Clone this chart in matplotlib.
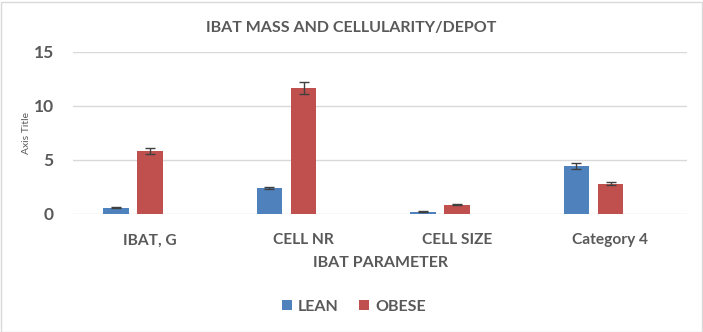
import numpy as np
import matplotlib
matplotlib.use("Agg")
from matplotlib import pyplot as plt
from matplotlib.patches import Rectangle

categories = ["IBAT, G", "CELL NR", "CELL SIZE", "Category 4"]
lean = [0.56, 2.41, 0.2, 4.46]
lean_err = [0.05, 0.08, 0.04, 0.25]
obese = [5.85, 11.7, 0.86, 2.79]
obese_err = [0.3, 0.56, 0.05, 0.14]
y_ticks = [0, 5, 10, 15]

text_color = "#595959"
font = ["Lato", "DejaVu Sans"]
plt.rcParams["font.family"] = font

fig = plt.figure(figsize=(7.03, 3.32), dpi=100)
ax = fig.add_axes([73.25 / 703, 118 / 332, 614 / 703, 162 / 332])

x = np.arange(len(categories))
width = 0.169
step = 0.2215
ax.bar(x - step, lean, width, color="#4f81bd", label="LEAN", zorder=3)
ax.bar(x, obese, width, color="#c0504d", label="OBESE", zorder=3)
ax.errorbar(x - step, lean, yerr=lean_err, fmt="none", ecolor="#404040",
            elinewidth=1, capsize=3.5, capthick=1, zorder=4)
ax.errorbar(x, obese, yerr=obese_err, fmt="none", ecolor="#404040",
            elinewidth=1, capsize=3.5, capthick=1, zorder=4)

ax.set_xlim(-0.5, len(categories) - 0.5)
ax.set_ylim(0, 15)
ax.set_yticks(y_ticks)
ax.set_xticks(x)
ax.set_xticklabels(categories)
ax.grid(axis="y", color="#d9d9d9", linewidth=1, zorder=0)
for side in ["top", "right", "left", "bottom"]:
    ax.spines[side].set_visible(False)
ax.tick_params(length=0, colors=text_color)
ax.tick_params(axis="x", pad=14, labelsize=11.2)
ax.tick_params(axis="y", pad=14, labelsize=12.5)
for lbl in ax.get_xticklabels() + ax.get_yticklabels():
    lbl.set_fontweight("bold")

ax.set_xlabel("IBAT PARAMETER", color=text_color, fontsize=11.5,
              fontweight="bold", labelpad=6)
ax.set_ylabel("Axis Title", color=text_color, fontsize=7.5, labelpad=2)

fig.text(0.5, 1 - 28 / 332, "IBAT MASS AND CELLULARITY/DEPOT", ha="center",
         va="center", color=text_color, fontsize=11.5, fontweight="bold")

leg = fig.legend(loc="center", bbox_to_anchor=(354 / 703, 1 - 307 / 332),
                 ncol=2, frameon=False, handlelength=0.6, handleheight=0.6,
                 handletextpad=0.4, columnspacing=1.3,
                 prop={"size": 11.5, "weight": "bold"})
for t in leg.get_texts():
    t.set_color(text_color)

fig.patches.append(Rectangle((0.5 / 703, 0.5 / 332), 701 / 703, 330 / 332,
                             transform=fig.transFigure, fill=False,
                             edgecolor="#d9d9d9", linewidth=1))

fig.savefig("out.png", dpi=100)
